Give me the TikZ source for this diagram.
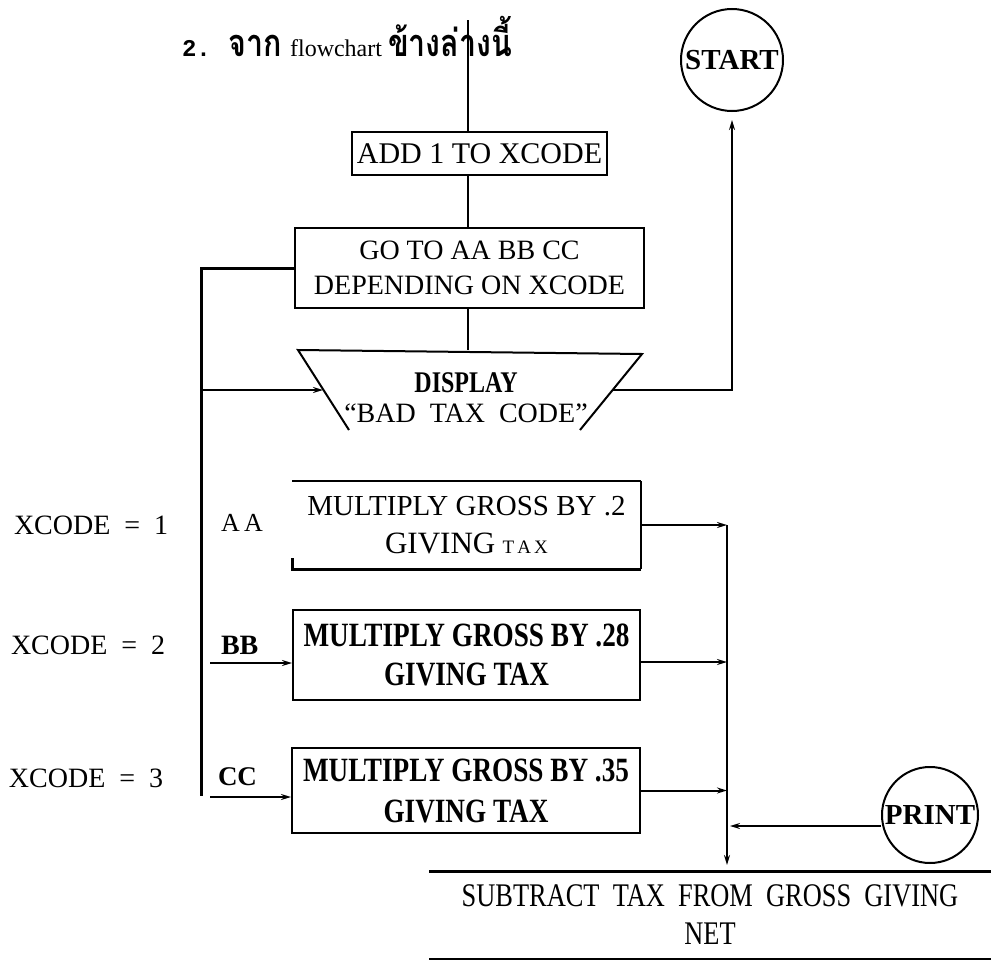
\documentclass[tikz,border=0pt]{standalone}
\usepackage{fontspec}
\setmainfont{Liberation Serif}
\newfontfamily\condfont[FakeStretch=0.8]{Liberation Serif}
\newfontfamily\thaifont[Script=Thai, FakeStretch=0.8]{Loma}
\newfontfamily\numfont{Liberation Mono}
\usetikzlibrary{arrows.meta}
\newcommand{\fsz}[2]{\fontsize{#1}{#2}\selectfont}

\begin{document}
\begin{tikzpicture}[x=1pt, y=-1pt, line width=2pt,
    box/.style={draw, inner sep=0pt, align=center},
    bubble/.style={circle, draw, inner sep=0pt, font=\bfseries\fsz{29}{29}},
    link/.style={-{Stealth[length=10pt, width=6pt]}}]
    \useasboundingbox (0,0) rectangle (996,961);

    % หัวเรื่อง
    \node[anchor=base west, inner sep=0pt] (title) at (181,56)
        {{\numfont\bfseries\fsz{24}{24}2.}\hspace{18pt}{\thaifont\bfseries\fsz{38}{38}จาก}\hspace{8pt}{\fsz{24}{24}flowchart}\hspace{6pt}{\thaifont\bfseries\fsz{38}{38}ข้างล่างนี้}};
    \coordinate (entry) at (468,20);

    % กล่องบน
    \node[box, minimum width=255, minimum height=43, font=\fsz{30}{30}] (add) at (479.5,153.5) {ADD 1 TO XCODE};
    \node[box, minimum width=349, minimum height=80, font=\fsz{28}{35}] (goto) at (469.5,268) {GO TO AA BB CC\\DEPENDING ON XCODE};

    % DISPLAY
    \coordinate (dTL) at (298,350);
    \coordinate (dTR) at (642,354);
    \coordinate (dBL) at (349,430);
    \coordinate (dBR) at (580,430);
    \coordinate (dL) at (323,390);
    \coordinate (dR) at (613,390);
    \draw (dBL) -- (dTL) -- (dTR) -- (dBR);
    \node[align=center, inner sep=0pt, font=\fsz{28}{30}] (disp) at (466,398)
        {{\condfont\bfseries\fsz{30}{30}DISPLAY}\\``BAD\ \ TAX\ \ CODE''};

    \draw (entry) -- (entry |- add.north);
    \draw (entry |- add.south) -- (entry |- goto.north);
    \draw (entry |- goto.south) -- (entry |- dTL);

    % กล่อง AA BB CC
    \node[inner sep=0pt, align=center, minimum width=347, minimum height=86, font=\fsz{29}{38}] (aa) at (466.5,525)
        {MULTIPLY GROSS BY .2\\{\fsz{31}{38}GIVING} {\fsz{19}{38}T\,A\,X}};
    \draw[line width=2.8pt] (aa.north west) -- (aa.north east);
    \draw (aa.north east) -- (aa.south east);
    \draw[line width=3pt] (aa.south east) -- (aa.south west) -- ++(0,-11);
    \node[box, minimum width=347, minimum height=90, font=\condfont\bfseries\fsz{34}{39}] (bb) at (466.5,655) {MULTIPLY GROSS BY .28\\GIVING TAX};
    \node[box, minimum width=348, minimum height=85, font=\condfont\bfseries\fsz{34}{41}] (cc) at (466,790.5) {MULTIPLY GROSS BY .35\\GIVING TAX};

    % ป้ายซ้าย
    \node[anchor=west, inner sep=0pt, font=\fsz{28}{28}] (x1) at (13,525) {XCODE\enspace=\enspace1};
    \node[anchor=west, inner sep=0pt, font=\fsz{28}{28}] (x2) at (10,645) {XCODE\enspace=\enspace2};
    \node[anchor=west, inner sep=0pt, font=\fsz{28}{28}] (x3) at (8,778) {XCODE\enspace=\enspace3};
    \node[anchor=west, inner sep=0pt, font=\fsz{26}{26}] (laa) at (220,523) {A\,A};
    \node[anchor=west, inner sep=0pt, font=\bfseries\fsz{28}{28}] (lbb) at (220,645) {BB};
    \node[anchor=west, inner sep=0pt, font=\bfseries\fsz{27}{27}] (lcc) at (217,777) {CC};

    % เส้นแยก
    \coordinate (busTop) at (201,264);
    \coordinate (busBot) at (201,796);
    \coordinate (bbIn) at (210,663);
    \coordinate (ccIn) at (210,797);
    \draw[line width=3pt] (goto.west) -- (goto.west -| busTop) -- (busBot);
    \draw[link] (busTop |- dL) -- (dL);
    \draw[link] (bbIn) -- (bbIn -| bb.west);
    \draw[link] (ccIn) -- (ccIn -| cc.west);

    % START
    \node[bubble, minimum size=102] (start) at (732,60) {START};
    \draw[link, line width=2.6pt, shorten >=8pt] (dR) -- (dR -| start.south) -- (start.south);

    % เส้นรวม
    \coordinate (colTop) at (727,525);
    \coordinate (colBot) at (727,865);
    \draw[link] (colTop) -- (colBot);
    \draw[link] (aa.east) -- (aa.east -| colTop);
    \draw[link] ([yshift=-7pt]bb.east) -- ([yshift=-7pt]bb.east -| colTop);
    \draw[link] (cc.east) -- (cc.east -| colTop);

    % PRINT
    \node[bubble, minimum size=96] (print) at (930,815) {PRINT};
    \draw[link, shorten >=3pt] ([yshift=-11pt]print.west) -- ([yshift=-11pt]print.west -| colTop);

    % SUBTRACT
    \node[inner sep=0pt, align=center, minimum width=560, minimum height=85, font=\condfont\fsz{33}{38}] (sub) at (710,915)
        {SUBTRACT\ \ TAX\ \ FROM\ \ GROSS\ \ GIVING\\NET};
    \draw[line width=3pt] (sub.north west) -- (sub.north east);
    \draw (sub.south west) -- (sub.south east);
\end{tikzpicture}
\end{document}
